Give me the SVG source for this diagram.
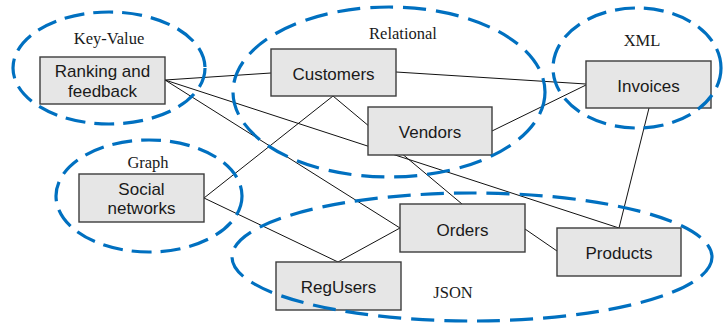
<svg xmlns="http://www.w3.org/2000/svg" width="725" height="327" viewBox="0 0 725 327">
  <style>
    .box { fill: #e6e6e6; stroke: #3c3c3c; stroke-width: 1.4; }
    .name { font-family: "Liberation Sans", Arial, sans-serif; font-size: 17px; fill: #1a1a1a; text-anchor: middle; }
    .store { fill: none; stroke: #0070c0; stroke-width: 3.2; stroke-dasharray: 20 9; }
    .store.wide { stroke-dasharray: 23 10; }
    .kind { font-family: "Liberation Serif", "Times New Roman", serif; font-size: 16.5px; fill: #1a1a1a; text-anchor: middle; }
    .link { stroke: #111; stroke-width: 1; fill: none; }
  </style>
  <rect width="725" height="327" fill="#ffffff"/>

  <!-- relationships between the data sets -->
  <g id="connectors">
    <line class="link" x1="165" y1="80" x2="271" y2="73"/>
    <line class="link" x1="165" y1="80" x2="619" y2="228"/>
    <line class="link" x1="165" y1="80" x2="400" y2="228"/>
    <line class="link" x1="333" y1="96" x2="204" y2="198"/>
    <line class="link" x1="333" y1="96" x2="462" y2="204"/>
    <line class="link" x1="396" y1="72" x2="586" y2="84"/>
    <line class="link" x1="492" y1="131" x2="586" y2="85"/>
    <line class="link" x1="649" y1="108" x2="619" y2="228"/>
    <line class="link" x1="525" y1="229" x2="557" y2="251"/>
    <line class="link" x1="400" y1="228" x2="338" y2="262"/>
    <line class="link" x1="204" y1="198" x2="338" y2="262"/>
  </g>

  <!-- data sets -->
  <g id="ranking">
    <rect class="box" x="40" y="57" width="125" height="47"/>
    <text class="name" x="102.5" y="77">Ranking and</text>
    <text class="name" x="102.5" y="97">feedback</text>
  </g>
  <g id="customers">
    <rect class="box" x="271" y="49" width="125" height="47"/>
    <text class="name" x="333.5" y="80">Customers</text>
  </g>
  <g id="vendors">
    <rect class="box" x="368" y="107" width="124" height="48"/>
    <text class="name" x="430" y="138">Vendors</text>
  </g>
  <g id="invoices">
    <rect class="box" x="586" y="61" width="125" height="47"/>
    <text class="name" x="648.5" y="92">Invoices</text>
  </g>
  <g id="social">
    <rect class="box" x="79" y="174" width="125" height="48"/>
    <text class="name" x="141.5" y="195">Social</text>
    <text class="name" x="141.5" y="214">networks</text>
  </g>
  <g id="orders">
    <rect class="box" x="400" y="204" width="125" height="48"/>
    <text class="name" x="462.5" y="236">Orders</text>
  </g>
  <g id="products">
    <rect class="box" x="557" y="228" width="124" height="48"/>
    <text class="name" x="619" y="259">Products</text>
  </g>
  <g id="regusers">
    <rect class="box" x="276" y="262" width="125" height="48"/>
    <text class="name" x="338.5" y="293">RegUsers</text>
  </g>

  <!-- storage models -->
  <g id="store-keyvalue">
    <ellipse class="store" cx="109" cy="68" rx="96" ry="56"/>
    <text class="kind" x="109" y="44">Key-Value</text>
  </g>
  <g id="store-relational">
    <ellipse class="store wide" cx="389" cy="92" rx="156" ry="85"/>
    <text class="kind" x="403" y="39">Relational</text>
  </g>
  <g id="store-xml">
    <ellipse class="store" cx="637" cy="68" rx="84" ry="60"/>
    <text class="kind" x="642" y="46">XML</text>
  </g>
  <g id="store-graph">
    <ellipse class="store" cx="149" cy="196" rx="93" ry="56"/>
    <text class="kind" x="148" y="168">Graph</text>
  </g>
  <g id="store-json">
    <ellipse class="store wide" cx="472" cy="257" rx="240" ry="64"/>
    <text class="kind" x="453" y="298">JSON</text>
  </g>
</svg>
